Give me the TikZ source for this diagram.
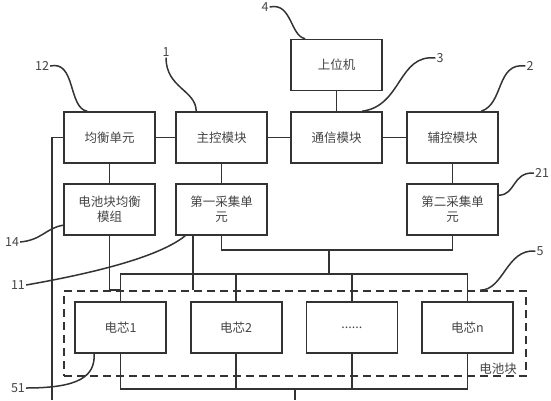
\documentclass[tikz,border=0pt]{standalone}
\usepackage{fontspec}
\setmainfont{Noto Sans CJK SC}
\definecolor{linegray}{HTML}{333333}
\definecolor{textgray}{HTML}{444444}
\tikzset{
  box/.style={draw=linegray, line width=1.6pt, minimum width=91pt, minimum height=51pt,
    inner sep=0pt, align=center, text=textgray, font=\fontsize{12.5}{15}\selectfont},
  pack/.style={draw=linegray, line width=1.6pt, dashed, dash pattern=on 8pt off 5pt,
    minimum width=462pt, minimum height=85pt, inner sep=0pt},
  lbl/.style={text=textgray, inner sep=1pt, font=\fontsize{12.5}{15}\selectfont},
  wire/.style={draw=linegray, line width=1.6pt},
  lead/.style={draw=linegray, line width=1.5pt},
}
\begin{document}
\begin{tikzpicture}[x=1pt,y=-1pt]
		\useasboundingbox (0,0) rectangle (551,400);
		%modules
		\node[box] (jh) at (109.5,137.5) {均衡单元};
		\node[box] (zk) at (221.5,137.5) {主控模块};
		\node[box] (sw) at (336.5,65) {上位机};
		\node[box] (tx) at (336.5,137.5) {通信模块};
		\node[box] (fk) at (452.5,137.5) {辅控模块};
		\node[box] (jhmz) at (109.5,209.5) {电池块均衡\\模组};
		\node[box] (cj1) at (221.5,209.5) {第一采集单\\元};
		\node[box] (cj2) at (452.5,209.5) {第二采集单\\元};
		%battery block
		\node[pack] (pack) at (295,333.5) {};
		\node[lbl] (packtxt) at (498,369) {电池块};
		\node[box] (c1) at (120.5,327.5) {电芯1};
		\node[box] (c2) at (236.2,327.5) {电芯2};
		\node[box] (c3) at (351.8,327.5) {......};
		\node[box] (cn) at (467.5,327.5) {电芯n};
		%free ends and joints
		\coordinate (lb) at (52,400);
		\coordinate (cj) at (329,250);
		\coordinate (bt) at (329,274);
		\coordinate (bb) at (295,389);
		\coordinate (bo) at (295,400);
		\coordinate (v1) at ([xshift=18pt]cj1.south west);
		%wires
		\draw[wire] (jh.east) -- (zk.west);
		\draw[wire] (zk.east) -- (tx.west);
		\draw[wire] (tx.east) -- (fk.west);
		\draw[wire] (sw.south) -- (tx.north);
		\draw[wire] (jh.south) -- (jhmz.north);
		\draw[wire] (zk.south) -- (cj1.north);
		\draw[wire] (fk.south) -- (cj2.north);
		\draw[wire] (jh.west) -| (lb);
		\draw[wire] (cj1.south) |- (cj) -| (cj2.south);
		\draw[wire] (cj) -- (bt);
		\draw[wire] (v1) -- (v1 |- pack.north);
		\draw[wire] (jhmz.south) |- (c1.north |- pack.north);
		%bus lines
		\draw[wire] (c1.north) -- (c1.north |- bt) -- (cn.north |- bt) -- (cn.north);
		\draw[wire] (c1.south) -- (c1.south |- bb) -- (cn.south |- bb) -- (cn.south);
		\foreach \c in {c2,c3} {
			\draw[wire] (\c.north) -- (\c.north |- bt);
			\draw[wire] (\c.south) -- (\c.south |- bb);
		}
		\draw[wire] (bb) -- (bo);
		%reference numbers
		\node[lbl] (n12) at (42,66) {12};
		\node[lbl] (n1) at (166,52) {1};
		\node[lbl] (n4) at (265,7) {4};
		\node[lbl] (n3) at (440,58) {3};
		\node[lbl] (n2) at (530,66) {2};
		\node[lbl] (n21) at (542,173) {21};
		\node[lbl] (n5) at (540,251) {5};
		\node[lbl] (n14) at (12,242) {14};
		\node[lbl] (n11) at (18,285) {11};
		\node[lbl] (n51) at (18,388) {51};
		\draw[lead] (n12.east) .. controls (76,60) and (68,108) .. ([xshift=24pt]jh.north west);
		\draw[lead] (n1.south) .. controls (166,88) and (196,90) .. ([xshift=21pt]zk.north west);
		\draw[lead] (n4.east) .. controls (292,2) and (290,36) .. ([xshift=15pt]sw.north west);
		\draw[lead] (n3.west) .. controls (398,54) and (402,106) .. ([xshift=72pt]tx.north west);
		\draw[lead] (n2.west) .. controls (496,62) and (504,104) .. ([xshift=75pt]fk.north west);
		\draw[lead] (n21.west) .. controls (512,172) and (516,195) .. ([yshift=-12pt]cj2.north east);
		\draw[lead] (n5.west) .. controls (506,249) and (504,290) .. ([xshift=417pt]pack.north west);
		\draw[lead] (n14.east) .. controls (42,240) and (46,228) .. ([yshift=-42pt]jhmz.north west);
		\draw[lead] (n11.east) .. controls (100,272) and (160,256) .. ([xshift=10pt]cj1.south west);
		\draw[lead] (n51.east) .. controls (80,388) and (95,376) .. ([xshift=20pt]c1.south west);
\end{tikzpicture}
\end{document}
